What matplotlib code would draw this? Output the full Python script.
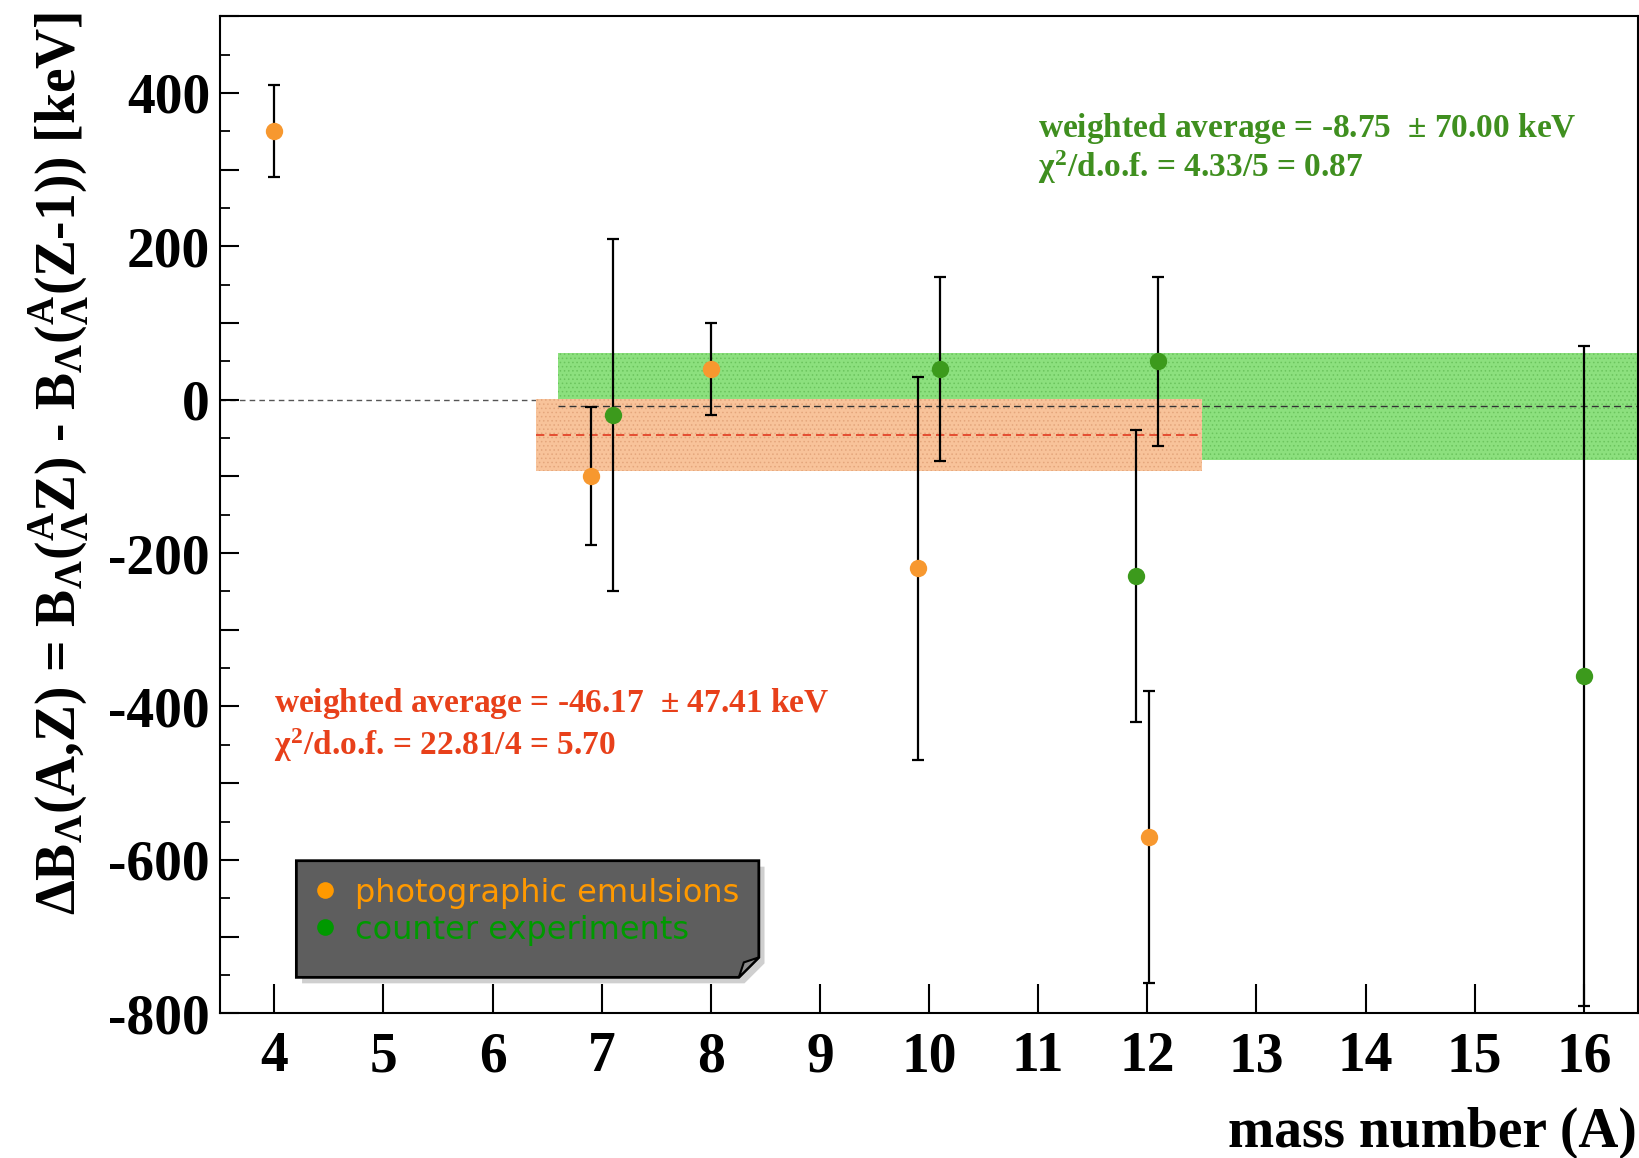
import numpy as np
import matplotlib
matplotlib.use("Agg")
import matplotlib.pyplot as plt
from matplotlib.patches import Polygon
from matplotlib.ticker import MultipleLocator, FuncFormatter

# photographic emulsions
emul_A = [4.0, 6.9, 8.0, 9.9, 12.02]
emul_dB = [350, -100, 40, -220, -570]
emul_err = [60, 90, 60, 250, 190]

# counter experiments
cnt_A = [7.1, 10.1, 11.9, 12.1, 16.0]
cnt_dB = [-20, 40, -230, 50, -360]
cnt_err = [230, 120, 190, 110, 430]

# weighted averages (value, error, x range of band)
cnt_avg, cnt_avg_err = -8.75, 70.00
cnt_band = [6.6, 16.5]
emul_avg, emul_avg_err = -46.17, 47.41
emul_band = [6.4, 12.5]
cnt_chi2, cnt_dof = 4.33, 5
emul_chi2, emul_dof = 22.81, 4

x_ticks = list(range(4, 17))
labels = ["photographic emulsions", "counter experiments"]

c_emul = "#f7982f"
c_cnt = "#3c9a1c"
c_emul_txt = "#e8401a"
c_cnt_txt = "#3f8f1f"

plt.rcParams["mathtext.fontset"] = "custom"
plt.rcParams["mathtext.rm"] = "Liberation Serif:bold"
plt.rcParams["mathtext.it"] = "Liberation Serif:bold"
plt.rcParams["mathtext.bf"] = "Liberation Serif:bold"
plt.rcParams["hatch.linewidth"] = 0.6

serif = dict(family="Liberation Serif", weight="bold")

fig = plt.figure(figsize=(16.4, 11.58), dpi=100)
ax = fig.add_axes([0.134, 0.125, 0.865, 0.861])

# zero line
ax.axhline(0, color="#555555", ls="--", lw=1, dashes=(4, 3), zorder=0)

# bands
ax.fill_between(cnt_band, cnt_avg - cnt_avg_err, cnt_avg + cnt_avg_err,
                facecolor="#8ce07e", edgecolor="#6cc45e", hatch="....", lw=0, zorder=1)
ax.fill_between(emul_band, emul_avg - emul_avg_err, emul_avg + emul_avg_err,
                facecolor="#f8c39a", edgecolor="#e4a67c", hatch="....", lw=0, zorder=1.5)
ax.plot(cnt_band, [cnt_avg, cnt_avg], color="#333333", ls="--", lw=1, dashes=(5, 3), zorder=2)
ax.plot(emul_band, [emul_avg, emul_avg], color="#e03a20", ls="--", lw=1.2, dashes=(5, 3), zorder=2)

# data
for A, dB, err, col in [(emul_A, emul_dB, emul_err, c_emul), (cnt_A, cnt_dB, cnt_err, c_cnt)]:
    ax.errorbar(A, dB, yerr=err, fmt="none", ecolor="black", elinewidth=1.6,
                capsize=4.5, capthick=1.6, zorder=3)
    ax.plot(A, dB, "o", color=col, ms=12.5, mec="none", zorder=4)

ax.set_xlim(3.5, 16.5)
ax.set_ylim(-800, 500)
ax.set_xticks(x_ticks)
ax.yaxis.set_major_locator(MultipleLocator(100))
ax.yaxis.set_minor_locator(MultipleLocator(50))
ax.yaxis.set_major_formatter(FuncFormatter(lambda v, p: "%d" % v if int(round(v)) % 200 == 0 else ""))
ax.tick_params(axis="x", direction="in", length=21, width=1.5, pad=13, labelsize=40)
ax.tick_params(axis="y", which="major", direction="in", length=14, width=1.5, pad=7, labelsize=40)
ax.tick_params(axis="y", which="minor", direction="in", length=7, width=1.3)
for lab in ax.get_xticklabels() + ax.get_yticklabels():
    lab.set_fontfamily("Liberation Serif")
    lab.set_fontweight("bold")
for s in ax.spines.values():
    s.set_linewidth(1.5)

# fit results
ax.text(11.0, 354, "weighted average = %.2f  $\\pm$ %.2f keV" % (cnt_avg, cnt_avg_err),
        color=c_cnt_txt, fontsize=24, va="center", **serif)
ax.text(11.0, 303, "$\\chi^2$/d.o.f. = %.2f/%d = %.2f" % (cnt_chi2, cnt_dof, cnt_chi2 / cnt_dof),
        color=c_cnt_txt, fontsize=24, va="center", **serif)
ax.text(4.0, -396, "weighted average = %.2f  $\\pm$ %.2f keV" % (emul_avg, emul_avg_err),
        color=c_emul_txt, fontsize=24, va="center", **serif)
ax.text(4.0, -450, "$\\chi^2$/d.o.f. = %.2f/%d = %.2f" % (emul_chi2, emul_dof, emul_chi2 / emul_dof),
        color=c_emul_txt, fontsize=24, va="center", **serif)

# legend box with folded corner
x0, x1, y0, y1 = 0.054, 0.380, 0.036, 0.153
cx, cy = 0.0141, 0.020
box = [(x0, y0), (x1 - cx, y0), (x1, y0 + cy), (x1, y1), (x0, y1)]
sh = [(x + 0.004, y - 0.006) for x, y in box]
ax.add_patch(Polygon(sh, closed=True, transform=ax.transAxes, fc="#a0a0a0", ec="none",
                     alpha=0.5, zorder=5))
ax.add_patch(Polygon(box, closed=True, transform=ax.transAxes, fc="#5e5e5e", ec="black",
                     lw=2, zorder=6))
fold = [(x1 - cx, y0), (x1 - cx * 0.75, y0 + cy * 0.75), (x1, y0 + cy)]
ax.add_patch(Polygon(fold, closed=True, transform=ax.transAxes, fc="#8c8c8c", ec="black",
                     lw=1.5, zorder=7))
for i, (lab, col) in enumerate(zip(labels, ["#ff9900", "#009900"])):
    yy = 0.124 - i * 0.037
    ax.plot([0.074], [yy], "o", color=col, ms=12, mec="none", transform=ax.transAxes,
            zorder=8, clip_on=False)
    ax.text(0.095, yy - 0.004, lab, color=col, fontsize=23, family="DejaVu Sans",
            va="center", transform=ax.transAxes, zorder=8)

ylab = (r"$\Delta$B$_\Lambda$(A,Z) = B$_\Lambda$(${}^{A}_{\Lambda}$Z) - "
        r"B$_\Lambda$(${}^{A}_{\Lambda}$(Z-1)) [keV]")
fig.text(0.036, 0.600, ylab, rotation=90, ha="center", va="center", fontsize=40, **serif)
fig.text(0.998, 0.0095, "mass number (A)", ha="right", va="baseline", fontsize=40, **serif)

fig.savefig("out.png", dpi=100)
